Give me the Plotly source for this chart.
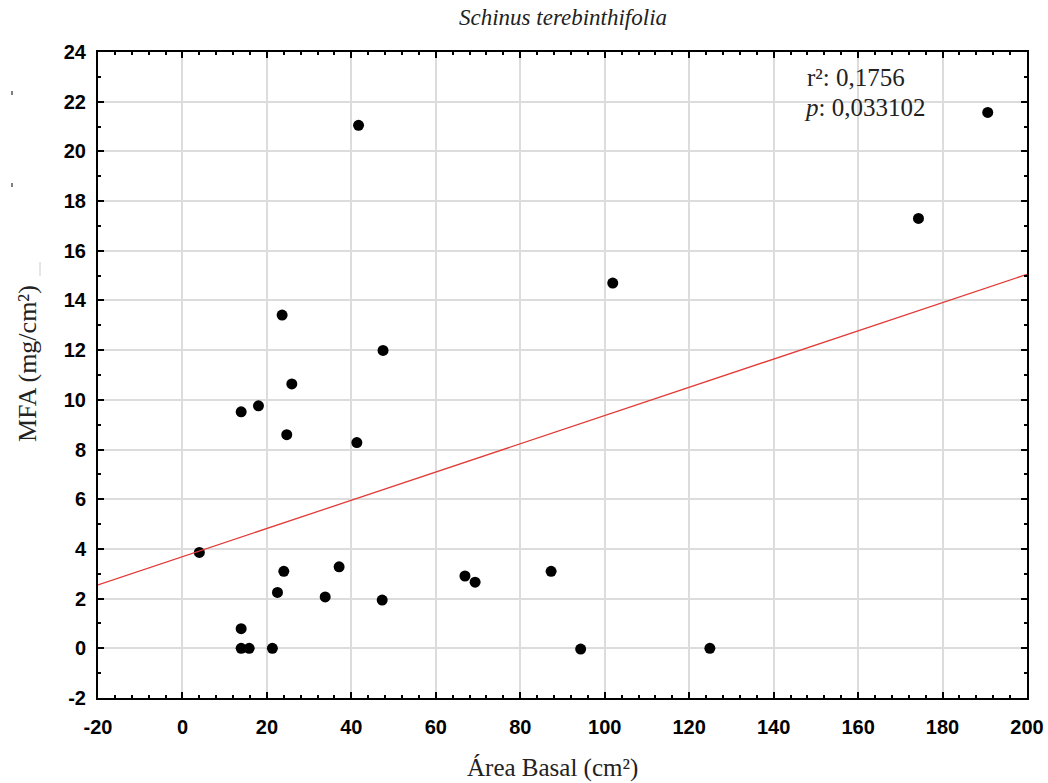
import plotly.graph_objects as go

# Data
area_basal = [4.0, 13.9, 18.0, 25.9, 24.7, 41.3, 24.0, 22.5, 37.1, 33.8, 47.3,
              66.9, 69.3, 13.9, 13.9, 15.8, 21.3, 23.6, 47.5, 41.7, 101.9,
              174.3, 190.7, 87.3, 94.3, 124.9]
mfa = [3.86, 9.52, 9.76, 10.64, 8.6, 8.28, 3.1, 2.25, 3.28, 2.07, 1.94,
       2.91, 2.66, 0.79, 0.0, 0.0, 0.0, 13.41, 11.99, 21.05, 14.7,
       17.3, 21.57, 3.1, -0.03, 0.0]
fit_x = [-20, 200]
fit_y = [2.55, 15.05]

x_ticks = [-20, 0, 20, 40, 60, 80, 100, 120, 140, 160, 180, 200]
x_ticklabels = ["-20", "0", "20", "40", "60", "80", "100", "120", "140", "160", "180", "200"]
y_ticks = [-2, 0, 2, 4, 6, 8, 10, 12, 14, 16, 18, 20, 22, 24]
y_ticklabels = ["-2", "0", "2", "4", "6", "8", "10", "12", "14", "16", "18", "20", "22", "24"]

r2_text = "r²: 0,1756"
p_text = "<i>p</i>: 0,033102"

W, H = 1048, 783
L, R, T, B = 98, 21, 52, 85
PW, PH = W - L - R, H - T - B

def px(xp):
    return (xp - L) / PW

def py(yp):
    return (H - B - yp) / PH

fig = go.Figure()
fig.add_trace(go.Scatter(x=area_basal, y=mfa, mode="markers",
                         marker=dict(color="black", size=11, line=dict(width=0)),
                         showlegend=False, hoverinfo="x+y"))
fig.add_trace(go.Scatter(x=fit_x, y=fit_y, mode="lines",
                         line=dict(color="#e23a36", width=1.3),
                         showlegend=False, hoverinfo="skip"))

tickfont = dict(family="Liberation Sans, Arial, sans-serif", size=20, color="black", weight="bold")
axis_common = dict(
    showgrid=True, gridcolor="#dcdcdc", gridwidth=1.5,
    showline=True, linecolor="black", linewidth=2, mirror="ticks",
    ticks="inside", ticklen=6, tickwidth=1.5, tickcolor="black",
    zeroline=False, tickfont=tickfont, automargin=False,
)

fig.update_xaxes(range=[-20, 200], tickmode="array", tickvals=x_ticks, ticktext=x_ticklabels,
                 minor=dict(tick0=0, dtick=4, ticks="inside", ticklen=3, tickwidth=1.5,
                            tickcolor="black", showgrid=False),
                 ticklabelstandoff=10, **axis_common)
fig.update_yaxes(range=[-2, 24], tickmode="array", tickvals=y_ticks, ticktext=y_ticklabels,
                 minor=dict(tick0=0, dtick=1, ticks="inside", ticklen=3, tickwidth=1.5,
                            tickcolor="black", showgrid=False),
                 ticklabelstandoff=6, **axis_common)

serif = "Liberation Serif, Times New Roman, serif"
annotations = [
    dict(text="<i>Schinus terebinthifolia</i>", xref="paper", yref="paper",
         x=0.5, y=py(17), xanchor="center", yanchor="middle", showarrow=False,
         font=dict(family=serif, size=23, color="#222")),
    dict(text="Área Basal (cm²)", xref="paper", yref="paper",
         x=px(552), y=py(768), xanchor="center", yanchor="middle", showarrow=False,
         font=dict(family=serif, size=25, color="#222")),
    dict(text="MFA (mg/cm²)", xref="paper", yref="paper", textangle=-90,
         x=px(27), y=py(364), xanchor="center", yanchor="middle", showarrow=False,
         font=dict(family=serif, size=26, color="#222")),
    dict(text=r2_text, xref="paper", yref="paper",
         x=px(805), y=py(77), xanchor="left", yanchor="middle", showarrow=False,
         font=dict(family=serif, size=25, color="#222")),
    dict(text=p_text, xref="paper", yref="paper",
         x=px(802), y=py(107), xanchor="left", yanchor="middle", showarrow=False,
         font=dict(family=serif, size=25, color="#222")),
]

# small stray marks visible at the left edge of the reference
shapes = [
    dict(type="line", xref="paper", yref="paper", x0=px(12), x1=px(12), y0=py(91), y1=py(95),
         line=dict(color="#555", width=1.5)),
    dict(type="line", xref="paper", yref="paper", x0=px(12), x1=px(12), y0=py(183), y1=py(187),
         line=dict(color="#555", width=1.5)),
    dict(type="line", xref="paper", yref="paper", x0=px(40), x1=px(40), y0=py(262), y1=py(276),
         line=dict(color="#cccccc", width=1)),
]

fig.update_layout(
    width=W, height=H,
    margin=dict(l=L, r=R, t=T, b=B, pad=0),
    paper_bgcolor="white", plot_bgcolor="white",
    annotations=annotations, shapes=shapes,
    showlegend=False,
)

fig.write_html("out.html")
